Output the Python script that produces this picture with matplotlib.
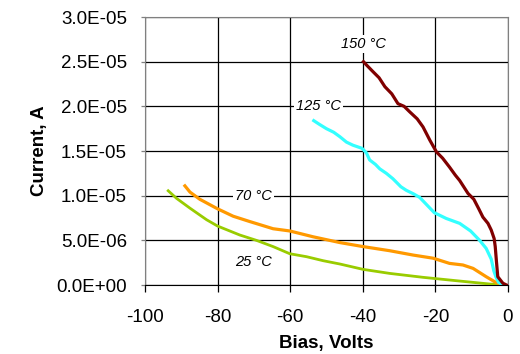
import matplotlib
matplotlib.use('Agg')
import matplotlib.pyplot as plt
from matplotlib.ticker import FuncFormatter

plt.rcParams['font.family'] = ['Liberation Sans', 'DejaVu Sans']
plt.rcParams['axes.unicode_minus'] = False

# I-V curves (bias in V, current in uA)
v_150 = [-39.8, -38.9, -37.1, -35.5, -33.9, -32.0, -30.3, -28.6, -27.1, -25.0,
         -23.4, -21.5, -19.7, -18.0, -16.1, -14.5, -13.3, -11.0,
         -9.4, -8.0, -6.9, -5.5, -4.6, -3.8, -3.5, -3.2, -2.8, -1.4, -0.4]
i_150 = [25.0, 24.6, 23.85, 23.2, 22.2, 21.4, 20.3, 20.0, 19.4, 18.6,
         17.7, 16.2, 14.9, 14.2, 13.2, 12.3, 11.7, 10.25,
         9.6, 8.5, 7.6, 6.9, 6.15, 5.2, 4.3, 2.8, 0.93, 0.2, 0.0]

v_125 = [-53.5, -52.0, -50.0, -48.0, -46.3, -44.5, -42.7, -40.2, -39.0, -38.1,
         -36.5, -35.3, -33.5, -31.7, -29.5, -28.0, -26.0, -24.3,
         -20.3, -17.0, -13.3, -10.3, -7.8, -6.0, -4.6, -3.9, -3.3, -2.6, -1.4]
i_125 = [18.4, 18.0, 17.5, 17.1, 16.6, 16.0, 15.65, 15.3, 14.8, 14.0,
         13.5, 13.0, 12.5, 11.9, 11.0, 10.6, 10.2, 9.8,
         8.1, 7.45, 6.9, 6.05, 5.0, 4.1, 2.9, 1.6, 0.9, 0.3, 0.0]

v_70 = [-89.0, -87.6, -84.9, -80.1, -75.7, -71.1, -64.7, -60.1, -53.7, -46.3,
        -39.9, -32.6, -26.1, -20.6, -16.1, -12.4, -9.6, -6.0, -3.2, -1.4]
i_70 = [11.1, 10.4, 9.6, 8.55, 7.7, 7.1, 6.3, 6.05, 5.4, 4.75,
        4.3, 3.84, 3.35, 3.0, 2.42, 2.24, 1.86, 0.93, 0.26, 0.07]

v_25 = [-93.6, -91.3, -87.6, -83.0, -80.0, -73.9, -69.3, -64.7, -60.1, -55.5,
        -50.9, -46.3, -39.9, -32.6, -23.4, -14.2, -5.0, -1.4]
i_25 = [10.55, 9.7, 8.6, 7.3, 6.6, 5.6, 5.0, 4.3, 3.5, 3.17,
        2.72, 2.35, 1.75, 1.3, 0.86, 0.48, 0.11, 0.04]

series = [
    (v_25, i_25, '#99cc00', 2.0),
    (v_70, i_70, '#ff9900', 2.3),
    (v_125, i_125, '#33ffff', 2.3),
    (v_150, i_150, '#800000', 2.3),
]

labels = [('150 °C', -39.9, 27.0), ('125 °C', -52.1, 20.0),
          ('70 °C', -70, 9.97), ('25 °C', -70, 2.58)]

fig = plt.figure(figsize=(5.2, 3.54), dpi=100)
ax = fig.add_axes([0.2788, 0.1949, 0.698, 0.757])

for v, i, c, lw in series:
    ax.plot(v, [x * 1e-6 for x in i], color=c, lw=lw, zorder=3)

for txt, x, y in labels:
    ax.text(x, y * 1e-6, txt, style='italic', fontsize=10.5, ha='center', va='center',
            bbox=dict(facecolor='white', edgecolor='none', pad=1.5), zorder=4)

ax.set_xlim(-100, 0)
ax.set_ylim(0, 3.0e-5)
ax.set_xticks(range(-100, 1, 20))
ax.set_yticks([k * 5e-6 for k in range(7)])
ax.yaxis.set_major_formatter(FuncFormatter(lambda v, p: f'{v:.1E}'))
ax.grid(True, color='black', lw=0.9)
ax.set_axisbelow(True)

for s in ['left', 'top', 'right']:
    ax.spines[s].set_color('#808080')
ax.spines['bottom'].set_color('black')
ax.tick_params(axis='x', direction='out', length=5, width=0.9, labelsize=13.5, pad=12)
ax.tick_params(axis='y', direction='out', length=3, width=0.9, color='#808080',
               labelsize=13.5, pad=10)

ax.set_xlabel('Bias, Volts', fontsize=13.5, fontweight='bold', labelpad=7)
ax.set_ylabel('Current, A', fontsize=13.5, fontweight='bold', labelpad=6)

fig.savefig('out.png', dpi=100)
